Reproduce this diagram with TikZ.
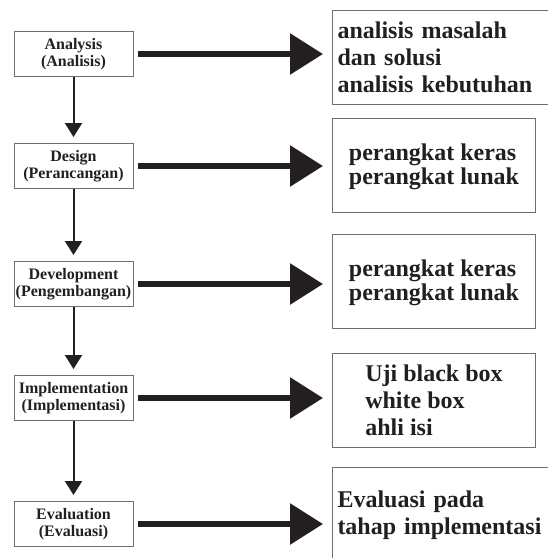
\documentclass[tikz,border=0pt]{standalone}
\usepackage[svgnames]{xcolor}
\usepackage{fontspec}
\setmainfont{Liberation Serif}
\usepackage{tikz}
\usetikzlibrary{
  arrows.meta}

\definecolor{ink}{HTML}{231F20}
\definecolor{frame}{HTML}{6D6E71}

\begin{document}
\begin{tikzpicture}[x=1pt,y=-1pt]
\clip (0,0) rectangle (548,558);

\tikzset{
  phase/.style={
    draw=frame,
    line width=1pt,
    text=ink,
    font=\fontsize{16}{17.5}\selectfont\bfseries,
    align=center,
    minimum width=119pt,
    minimum height=45pt,
    inner sep=1pt},
  outcome/.style={
    draw=frame,
    line width=1pt,
    text=ink,
    font=\fontsize{24}{27}\selectfont\bfseries,
    align=left,
    anchor=west,
    minimum width=203pt,
    minimum height=94pt},
  flow/.style={
    draw=ink,
    line width=2pt,
    shorten >=6pt,
    -{Triangle[length=14pt,width=17pt]}},
  feed/.style={
    draw=ink,
    line width=6pt,
    shorten <=4pt,
    shorten >=9pt,
    -{Triangle[length=33pt,width=40pt]}},
}

\node[phase] (analysis) at (73.5,54) {Analysis\\(Analisis)};
\node[phase] (design) at (73.5,166) {Design\\(Perancangan)};
\node[phase] (development) at (73.5,284) {Development\\(Pengembangan)};
\node[phase] (implementation) at (73.5,398) {Implementation\\(Implementasi)};
\node[phase] (evaluation) at (73.5,524) {Evaluation\\(Evaluasi)};

\node[
  outcome,
  text width=229pt,
  inner xsep=5pt] (analysisout) at (332,57)
  {analisis masalah\\dan solusi\\analisis kebutuhan};
\node[
  outcome,
  font=\fontsize{24}{24}\selectfont\bfseries,
  text depth=2pt] (designout) at (332,165)
  {perangkat keras\\perangkat lunak};
\node[
  outcome,
  font=\fontsize{24}{24}\selectfont\bfseries,
  text depth=2pt] (developmentout) at (332,281.5)
  {perangkat keras\\perangkat lunak};
\node[outcome] (implementationout) at (332,400)
  {Uji black box\\white box\\ahli isi};
\node[
  outcome,
  anchor=north west,
  minimum height=96pt,
  text width=229pt,
  inner xsep=5pt] (evaluationout) at (332,467)
  {Evaluasi pada\\tahap implementasi};

\draw[flow] (analysis) -- (design);
\draw[flow] (design) -- (development);
\draw[flow] (development) -- (implementation);
\draw[flow] (implementation) -- (evaluation);

\draw[feed] (analysis.east) -- (analysis.east -| analysisout.west);
\draw[feed] (design.east) -- (design.east -| designout.west);
\draw[feed] (development.east) -- (development.east -| developmentout.west);
\draw[feed] (implementation.east) -- (implementation.east -| implementationout.west);
\draw[feed] (evaluation.east) -- (evaluation.east -| evaluationout.west);
\end{tikzpicture}
\end{document}
